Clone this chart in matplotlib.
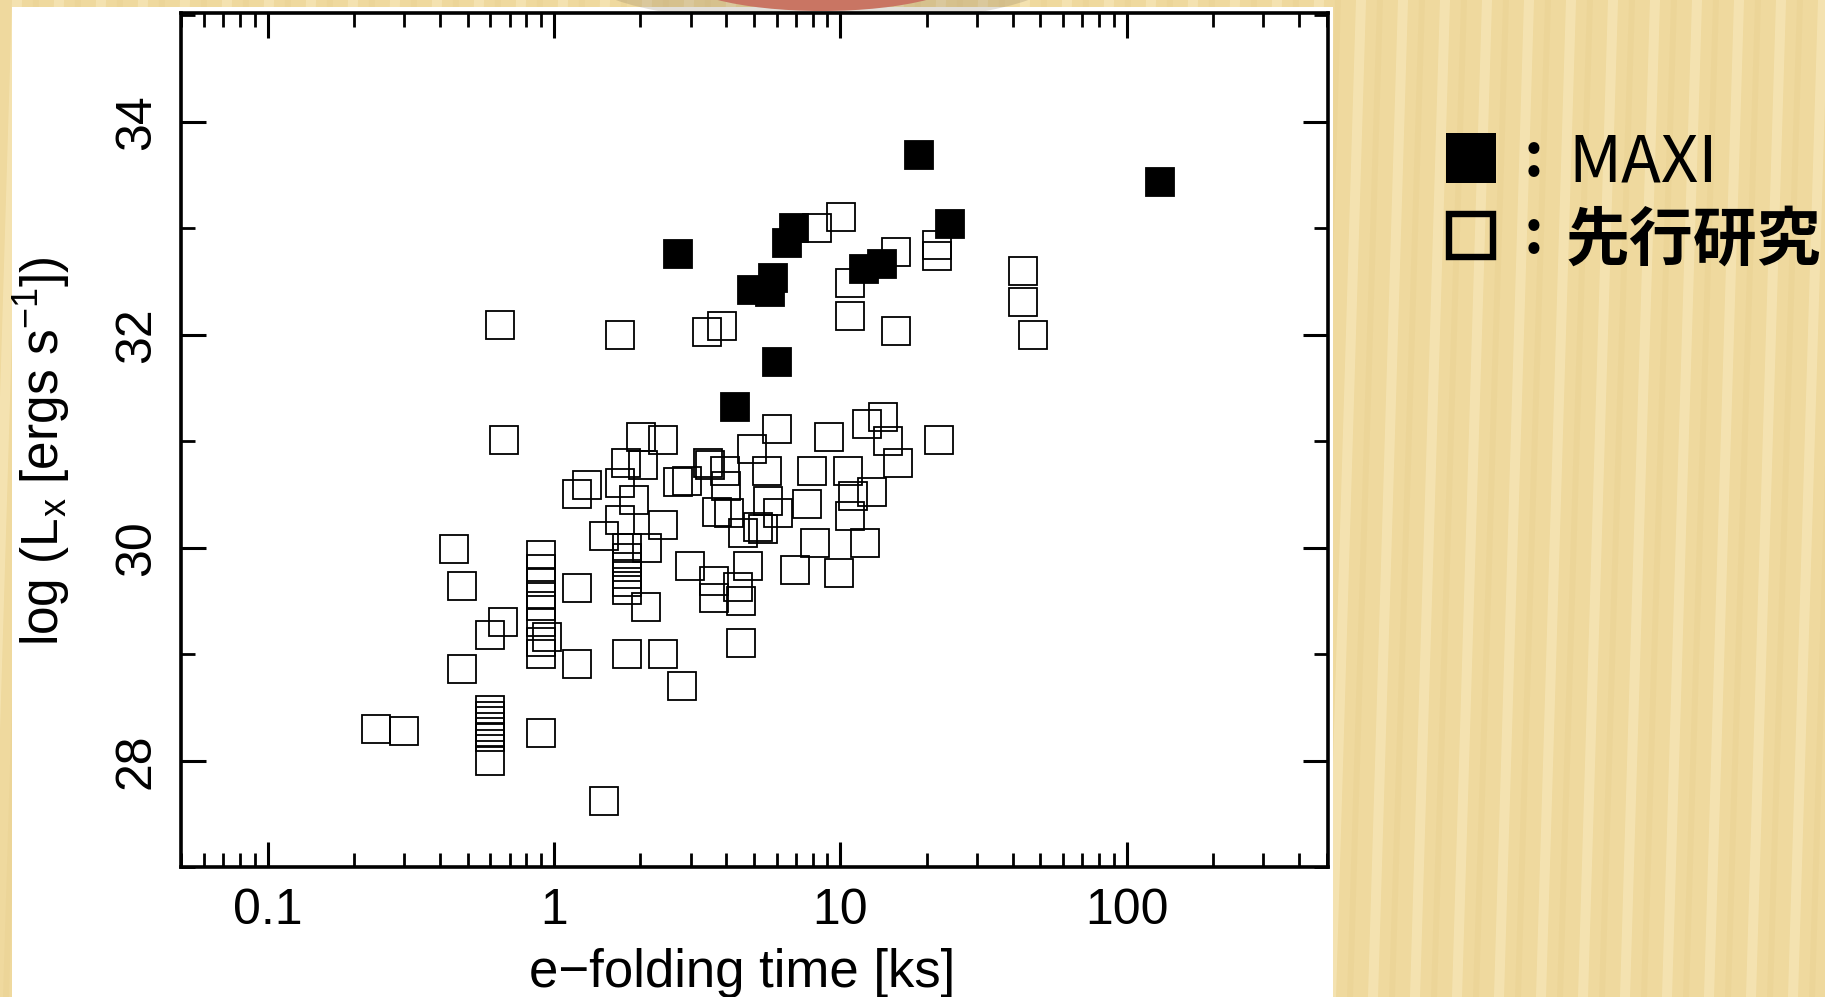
import numpy as np
import matplotlib
matplotlib.use('Agg')
import matplotlib.pyplot as plt
from matplotlib.patches import Rectangle, Ellipse, Polygon
from matplotlib.ticker import FixedLocator, LogLocator, MultipleLocator, NullFormatter

plt.rcParams['font.family'] = ['Liberation Sans', 'DejaVu Sans']
plt.rcParams['mathtext.fontset'] = 'custom'
plt.rcParams['mathtext.rm'] = 'Liberation Sans'
plt.rcParams['mathtext.it'] = 'Liberation Sans:italic'
plt.rcParams['mathtext.bf'] = 'Liberation Sans:bold'

# ---------------- data ----------------
# MAXI flares (filled squares)
maxi_time = [18.9, 131, 24.2, 6.89, 6.53, 2.70, 12.1, 14.0, 5.82, 4.92, 5.67, 6.01, 4.30]
maxi_lx = [33.69, 33.44, 33.04, 33.00, 32.86, 32.76, 32.62, 32.67, 32.53, 32.42, 32.40, 31.75, 31.32]

# previous studies (open squares)
prior_time = [
    # upper group
    0.649, 1.70, 3.43, 3.85, 8.3, 10.06, 10.8, 10.8, 15.6, 15.6, 21.8, 21.8, 43.5, 43.5, 47.1,
    # around 31
    0.669, 2.01, 2.41, 4.90, 6.01, 9.1, 12.4, 14.1, 14.7, 22.1, 15.9,
    # 30.8 - 30.4
    1.79, 2.05, 3.44, 3.52, 3.95, 4.0, 5.53, 7.95, 10.6, 1.30, 1.20, 1.70, 2.72, 2.91, 1.90,
    5.6, 7.63, 11.05, 12.9,
    # 30.3 - 30.0
    6.08, 3.70, 4.10, 10.8, 2.41, 1.70, 1.50, 4.59, 5.16, 5.35, 2.11, 8.16, 12.2, 0.447,
    # column near 1.8 ks
    1.8, 1.8, 1.8, 1.8, 1.8, 1.8,
    # column near 0.9 ks
    0.9, 0.9, 0.9, 0.9, 0.9, 0.9, 0.9, 0.9,
    # 29.8 - 28.7
    2.99, 4.77, 6.95, 9.92, 3.61, 3.61, 4.40, 4.51, 1.20, 0.478, 2.10, 0.662, 0.599, 0.943,
    4.51, 1.20, 1.80, 2.41, 2.80, 0.478,
    # low group
    0.239, 0.299, 0.899, 1.50, 0.6, 0.6, 0.6, 0.6, 0.6, 0.6, 0.6,
]
prior_lx = [
    32.09, 32.00, 32.03, 32.08, 33.00, 33.11, 32.49, 32.18, 32.78, 32.04, 32.84, 32.74, 32.60, 32.31, 32.00,
    31.01, 31.04, 31.01, 30.93, 31.12, 31.04, 31.16, 31.23, 31.00, 31.01, 30.80,
    30.80, 30.78, 30.80, 30.78, 30.72, 30.58, 30.72, 30.72, 30.72, 30.59, 30.51, 30.61, 30.62, 30.63, 30.45,
    30.44, 30.41, 30.49, 30.52,
    30.33, 30.34, 30.33, 30.30, 30.21, 30.26, 30.11, 30.14, 30.20, 30.18, 30.00, 30.05, 30.05, 29.99,
    30.00, 29.90, 29.82, 29.75, 29.68, 29.60,
    29.93, 29.80, 29.68, 29.56, 29.45, 29.30, 29.12, 29.00,
    29.83, 29.83, 29.79, 29.76, 29.69, 29.53, 29.63, 29.50, 29.62, 29.64, 29.44, 29.30, 29.18, 29.16,
    29.11, 28.91, 29.00, 29.00, 28.70, 28.86,
    28.30, 28.28, 28.26, 27.62, 28.48, 28.42, 28.37, 28.32, 28.27, 28.22, 28.00,
]

x_ticks = [0.1, 1, 10, 100]
x_tick_labels = ['0.1', '1', '10', '100']
y_ticks = [28, 30, 32, 34]
y_tick_labels = ['28', '30', '32', '34']
x_label = 'e\u2212folding time [ks]'
y_label = r'log (L$_{\mathrm{x}}$ [ergs s$^{-1}$])'
legend_labels = ['MAXI', '先行研究']

# ---------------- figure ----------------
W, H = 1825, 997
fig = plt.figure(figsize=(W / 100, H / 100), dpi=100)

# background layer in pixel coordinates
bg = fig.add_axes([0, 0, 1, 1], zorder=-10)
bg.set_xlim(0, W)
bg.set_ylim(H, 0)
bg.axis('off')
bg.add_patch(Rectangle((0, 0), W, H, facecolor='#EFD99E', edgecolor='none'))
for i, x0 in enumerate(np.arange(-60, W + 60, 21)):
    if i % 2 == 0:
        col, alpha, wd = '#FBEFC8', 0.45, 10
    else:
        col, alpha, wd = '#DDC07A', 0.15, 6
    bg.add_patch(Polygon([(x0, H), (x0 + wd, H), (x0 + wd + 30, 0), (x0 + 30, 0)],
                         closed=True, facecolor=col, alpha=alpha, edgecolor='none'))
bg.add_patch(Rectangle((12, 7), 1333 - 12, H - 7, facecolor='white', edgecolor='none'))
bg.add_patch(Ellipse((822, -22), 470, 92, facecolor='#7F6E55', alpha=0.22, edgecolor='none'))
bg.add_patch(Ellipse((822, -28), 300, 78, facecolor='#C97563', edgecolor='none'))

# legend (drawn as slide text)
bg.add_patch(Rectangle((1446, 133), 50, 50, facecolor='black', edgecolor='none'))
bg.add_patch(Rectangle((1449.3, 214.3), 43.5, 42.5, facecolor='none', edgecolor='black', linewidth=4.6))
cjk = ['Noto Sans CJK JP', 'DejaVu Sans']
bg.text(1534, 176, ':', fontsize=44, fontweight='bold', family=cjk, ha='center', va='baseline')
bg.text(1534, 253, ':', fontsize=44, fontweight='bold', family=cjk, ha='center', va='baseline')
bg.text(1568, 182, legend_labels[0], fontsize=47, family=cjk, ha='left', va='baseline')
bg.text(1566, 260, legend_labels[1], fontsize=46, fontweight='bold', family=cjk, ha='left', va='baseline')

# main axes
ax = fig.add_axes([180.5 / W, 1 - 867.3 / H, (1328 - 180.5) / W, (867.3 - 13.3) / H])
ax.set_facecolor('white')
ax.plot(prior_time, prior_lx, ls='none', marker='s', ms=20.2, mfc='none', mec='black', mew=1.3)
ax.plot(maxi_time, maxi_lx, ls='none', marker='s', ms=20.2, mfc='black', mec='black', mew=1.3)

ax.set_xscale('log')
ax.set_xlim(0.0496, 505)
ax.set_ylim(27.0, 35.02)

ax.xaxis.set_major_locator(FixedLocator(x_ticks))
ax.set_xticklabels(x_tick_labels)
ax.xaxis.set_minor_locator(LogLocator(base=10, subs=np.arange(2, 10), numticks=20))
ax.xaxis.set_minor_formatter(NullFormatter())
ax.yaxis.set_major_locator(FixedLocator(y_ticks))
ax.set_yticklabels(y_tick_labels)
ax.yaxis.set_minor_locator(MultipleLocator(1))

for s in ax.spines.values():
    s.set_linewidth(2.6)
ax.tick_params(which='major', direction='in', length=18, width=2.2, top=True, right=True,
               labelsize=36, colors='black')
ax.tick_params(which='minor', direction='in', length=10, width=2.0, top=True, right=True)
ax.tick_params(axis='x', which='major', pad=15)
ax.tick_params(axis='y', which='major', pad=15)
for lab in ax.get_yticklabels():
    lab.set_rotation(90)
    lab.set_va('center')

fig.text(742 / W, 1 - 987 / H, x_label, fontsize=38, ha='center', va='baseline')
fig.text(12 / W, 1 - 451 / H, y_label, fontsize=37, rotation=90, ha='left', va='center')

fig.savefig('out.png', dpi=100)
